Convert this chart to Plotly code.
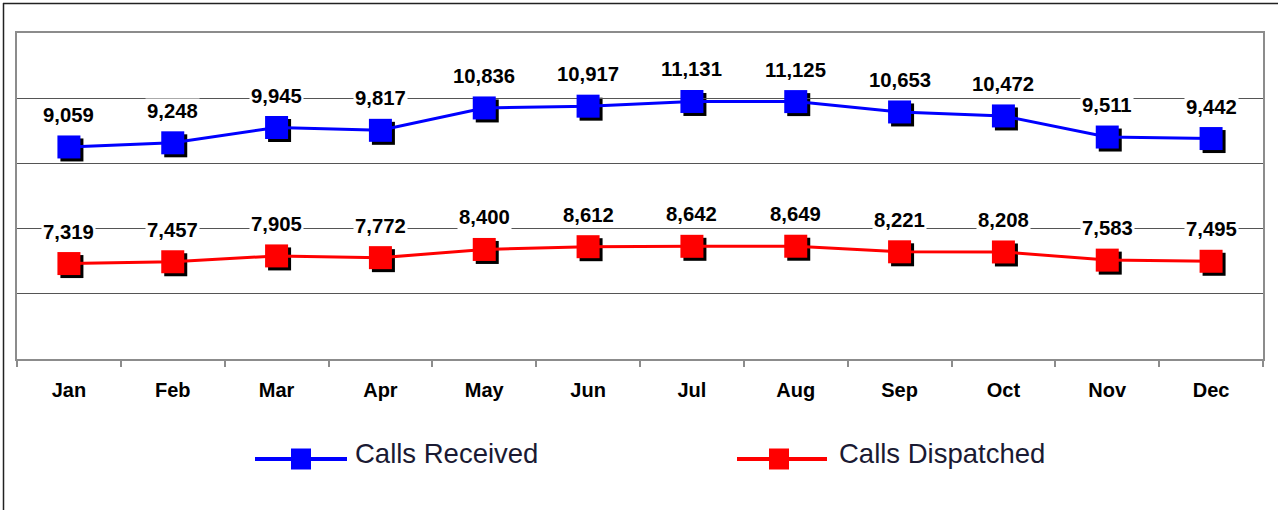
import plotly.graph_objects as go

# ---------------- data ----------------
months = ["Jan", "Feb", "Mar", "Apr", "May", "Jun", "Jul", "Aug", "Sep", "Oct", "Nov", "Dec"]
calls_received = [9059, 9248, 9945, 9817, 10836, 10917, 11131, 11125, 10653, 10472, 9511, 9442]
calls_dispatched = [7319, 7457, 7905, 7772, 8400, 8612, 8642, 8649, 8221, 8208, 7583, 7495]
received_name = "Calls Received"
dispatched_name = "Calls Dispatched"

# ---------------- layout geometry ----------------
W_FIG, H_FIG = 1278, 510
L, R, T, B = 17, 12, 33, 148
PW = W_FIG - L - R
PH = H_FIG - T - B
SH = 3  # marker shadow offset in px
dx = SH / PW
dy = SH / PH

received_range = [-600, 14250]
dispatched_range = [0, 25000]
cat_range = [-0.5, len(months) - 0.5]

FONT = "Arial, 'Liberation Sans', sans-serif"
BLUE = "#0000FF"
RED = "#FF0000"
MSIZE = 23


def px_x(p):
    return (p - L) / PW


def px_y(p):
    return (H_FIG - B - p) / PH


fig = go.Figure()

# shadows (drawn first, on shifted hidden axes)
fig.add_trace(go.Scatter(x=months, y=calls_received, xaxis="x", yaxis="y", mode="markers",
                         marker=dict(symbol="square", size=MSIZE, color="black", line=dict(width=0)),
                         showlegend=False, hoverinfo="skip"))
fig.add_trace(go.Scatter(x=months, y=calls_dispatched, xaxis="x", yaxis="y4", mode="markers",
                         marker=dict(symbol="square", size=MSIZE, color="black", line=dict(width=0)),
                         showlegend=False, hoverinfo="skip"))

# main series
fig.add_trace(go.Scatter(x=months, y=calls_dispatched, xaxis="x2", yaxis="y2", mode="lines+markers",
                         name=dispatched_name, line=dict(color=RED, width=3),
                         marker=dict(symbol="square", size=MSIZE, color=RED, line=dict(width=0)),
                         showlegend=False))
fig.add_trace(go.Scatter(x=months, y=calls_received, xaxis="x2", yaxis="y3", mode="lines+markers",
                         name=received_name, line=dict(color=BLUE, width=3),
                         marker=dict(symbol="square", size=MSIZE, color=BLUE, line=dict(width=0)),
                         showlegend=False))

annotations = []
for m, v in zip(months, calls_received):
    annotations.append(dict(x=m, y=v, xref="x2", yref="y3", text=f"<b>{v:,}</b>", showarrow=False,
                            yshift=32, bgcolor="white", borderpad=1,
                            font=dict(family=FONT, size=20.3, color="black")))
for m, v in zip(months, calls_dispatched):
    annotations.append(dict(x=m, y=v, xref="x2", yref="y2", text=f"<b>{v:,}</b>", showarrow=False,
                            yshift=32, bgcolor="white", borderpad=1,
                            font=dict(family=FONT, size=20.3, color="black")))

# manual legend
legend_items = [(255, 347, 301, BLUE, received_name, 353), (737, 827, 779, RED, dispatched_name, 837)]
shapes = []
for x0, x1, xc, col, name, tx in legend_items:
    shapes.append(dict(type="line", xref="paper", yref="paper", x0=px_x(x0), x1=px_x(x1),
                       y0=px_y(459), y1=px_y(459), line=dict(color=col, width=4)))
    shapes.append(dict(type="rect", xref="paper", yref="paper", x0=px_x(xc - 10), x1=px_x(xc + 10),
                       y0=px_y(448.5), y1=px_y(469.5), line=dict(width=0), fillcolor=col))
    annotations.append(dict(x=px_x(tx), y=px_y(453.5), xref="paper", yref="paper", text=name,
                            showarrow=False, xanchor="left", yanchor="middle",
                            font=dict(family=FONT, size=27.5, color="#1a1a33")))

# outer border (top and left)
shapes.append(dict(type="line", xref="paper", yref="paper", x0=px_x(3), x1=px_x(1278),
                   y0=px_y(3.5), y1=px_y(3.5), line=dict(color="#222", width=1.5)))
shapes.append(dict(type="line", xref="paper", yref="paper", x0=px_x(3.5), x1=px_x(3.5),
                   y0=px_y(3), y1=px_y(510), line=dict(color="#222", width=1.5)))

hidden = dict(visible=False, showgrid=False, zeroline=False)

fig.update_layout(
    width=W_FIG, height=H_FIG,
    margin=dict(l=L, r=R, t=T, b=B),
    paper_bgcolor="white",
    plot_bgcolor="rgba(0,0,0,0)",
    showlegend=False,
    font=dict(family=FONT, color="black"),
    xaxis=dict(domain=[dx, 1], range=cat_range, type="category", anchor="y", **hidden),
    yaxis=dict(domain=[0, 1 - dy], range=received_range, anchor="x", **hidden),
    yaxis4=dict(range=dispatched_range, overlaying="y", anchor="x", **hidden),
    xaxis2=dict(domain=[0, 1 - dx], range=cat_range, type="category", anchor="y2",
                showgrid=False, zeroline=False, showline=True, linecolor="#8c8c8c", linewidth=2,
                mirror=True, ticks="outside", tickson="boundaries", ticklen=6, tickcolor="#8c8c8c",
                tickwidth=2, ticklabelstandoff=12,
                tickfont=dict(family=FONT, size=20, color="black", weight="bold")),
    yaxis2=dict(domain=[dy, 1], range=dispatched_range, dtick=5000, anchor="x2",
                showgrid=True, gridcolor="#555555", gridwidth=1, zeroline=False,
                showline=True, linecolor="#8c8c8c", linewidth=2, mirror=True,
                showticklabels=False, ticks=""),
    yaxis3=dict(range=received_range, overlaying="y2", anchor="x2", **hidden),
    annotations=annotations,
    shapes=shapes,
)

fig.write_html(
    "out.html",
    config={"displayModeBar": False},
    post_script="document.body.style.margin='0';document.body.style.overflow='hidden';",
)
